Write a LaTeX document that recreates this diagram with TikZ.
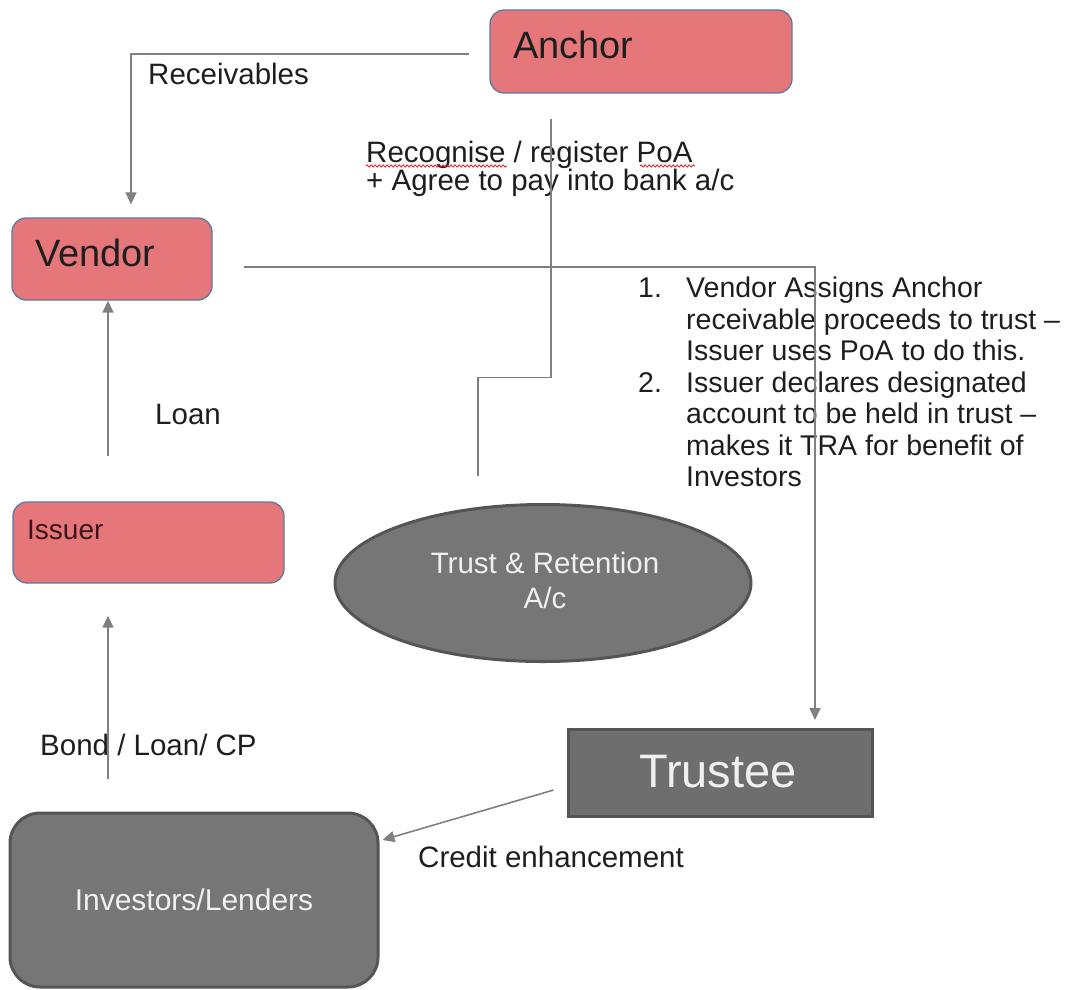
\documentclass[tikz,border=0pt]{standalone}
\usepackage{fontspec}
\setmainfont{Liberation Sans}
\usetikzlibrary{arrows.meta,decorations.pathmorphing,calc,shapes.geometric}
\definecolor{pinkf}{RGB}{229,119,123}
\definecolor{pinkb}{RGB}{95,120,160}
\definecolor{grayf}{RGB}{118,118,118}
\definecolor{grayb}{RGB}{85,85,85}
\definecolor{conn}{RGB}{128,128,128}
\definecolor{lighttxt}{RGB}{240,240,240}
\definecolor{darktxt}{RGB}{30,30,30}
\begin{document}
\begin{tikzpicture}[x=1pt,y=-1pt,
  pinkbox/.style={draw=pinkb, line width=1.3pt, fill=pinkf, rounded corners=14pt, inner sep=0pt},
  graybox/.style={draw=grayb, line width=3pt, fill=grayf, inner sep=0pt},
  conline/.style={draw=conn, line width=1.6pt},
  arr/.style={conline, -{Triangle[length=12pt,width=11pt]}},
  lbl/.style={inner sep=0pt, anchor=west, text=darktxt, font=\fontsize{29.5}{31}\selectfont},
  wtxt/.style={inner sep=0pt, text=lighttxt, align=center},
  spell/.style={draw=red, line width=0.7pt, decorate, decoration={snake, amplitude=1.1pt, segment length=4pt}}
]
\path[use as bounding box] (0,0) rectangle (1086,989);

% boxes
\node[pinkbox, minimum width=302pt, minimum height=83pt] (anc) at (641,51.5) {};
\node[lbl, font=\fontsize{38}{40}\selectfont] (anctxt) at (513,45) {Anchor};

\node[pinkbox, minimum width=200pt, minimum height=82pt] (vendor) at (112,259) {};
\node[lbl, font=\fontsize{38}{40}\selectfont] (vendortxt) at (35,253) {Vendor};

\node[pinkbox, minimum width=271pt, minimum height=81pt] (issuer) at (148.5,542.5) {};
\node[lbl, text={rgb,255:red,60;green,20;blue,25}, font=\fontsize{28}{30}\selectfont] (issuertxt) at (27,530) {Issuer};

\node[ellipse, draw=grayb, line width=3pt, fill=grayf, minimum width=416pt, minimum height=157pt, inner sep=0pt] (tra) at (543,583) {};
\node[wtxt, font=\fontsize{29.5}{35}\selectfont] (tratxt) at (545,580) {Trust \& Retention\\A/c};

\node[graybox, fill={rgb,255:red,110;green,110;blue,110}, minimum width=304pt, minimum height=87pt] (trustee) at (720,773) {};
\node[wtxt, font=\fontsize{47}{50}\selectfont] (trusteetxt) at (718,772) {Trustee};

\node[graybox, rounded corners=30pt, minimum width=368pt, minimum height=174pt] (investors) at (194,900) {};
\node[wtxt, font=\fontsize{30}{32}\selectfont] (investorstxt) at (194,900) {Investors/Lenders};

% labels
\node[lbl] (reclbl) at (148,74) {Receivables};
\node[lbl, anchor=base west] (recog1) at (366,162) {Recognise / register PoA};
\node[lbl, anchor=base west] (recog2) at (366,190) {+ Agree to pay into bank a/c};
\draw[spell] (366,166) -- (507,166);
\draw[spell] (640,166) -- (695,166);
\node[lbl] (loanlbl) at (155,414) {Loan};
\node[lbl] (bondlbl) at (40,745) {Bond / Loan/ CP};
\node[lbl] (creditlbl) at (418,857) {Credit enhancement};
\node[lbl, anchor=north west, align=left, font=\fontsize{28.5}{31.5}\selectfont] (steps) at (638,277) {%
\makebox[48pt][l]{1.}Vendor Assigns Anchor\\
\hspace*{48pt}receivable proceeds to trust –\\
\hspace*{48pt}Issuer uses PoA to do this.\\
\makebox[48pt][l]{2.}Issuer declares designated\\
\hspace*{48pt}account to be held in trust –\\
\hspace*{48pt}makes it TRA for benefit of\\
\hspace*{48pt}Investors};

% connectors
\coordinate (recstart) at ($(anc.west)+(-20,2.5)$);
\draw[arr] (recstart) -| ($(vendor.north)+(19,-13)$);

\coordinate (c1) at ($(anc.south)+(-90,25)$);
\coordinate (c1b) at ($(c1)+(0,259)$);
\coordinate (c2) at ($(tra.north)+(-65,-27)$);
\draw[conline] (c1) -- (c1b) -| (c2);

\coordinate (v1) at ($(vendor.east)+(31,8)$);
\draw[arr] (v1) -| ($(trustee.north)+(95,-8)$);

\draw[arr] ($(issuer.north)+(-40.5,-45)$) -- ($(vendor.south)+(-4,0)$);
\draw[arr] ($(investors.north)+(-86,-33)$) -- ($(issuer.south)+(-40.5,32)$);
\draw[arr] ($(trustee.west)+(-13,17)$) -- ($(investors.east)+(3,-60)$);
\end{tikzpicture}
\end{document}
